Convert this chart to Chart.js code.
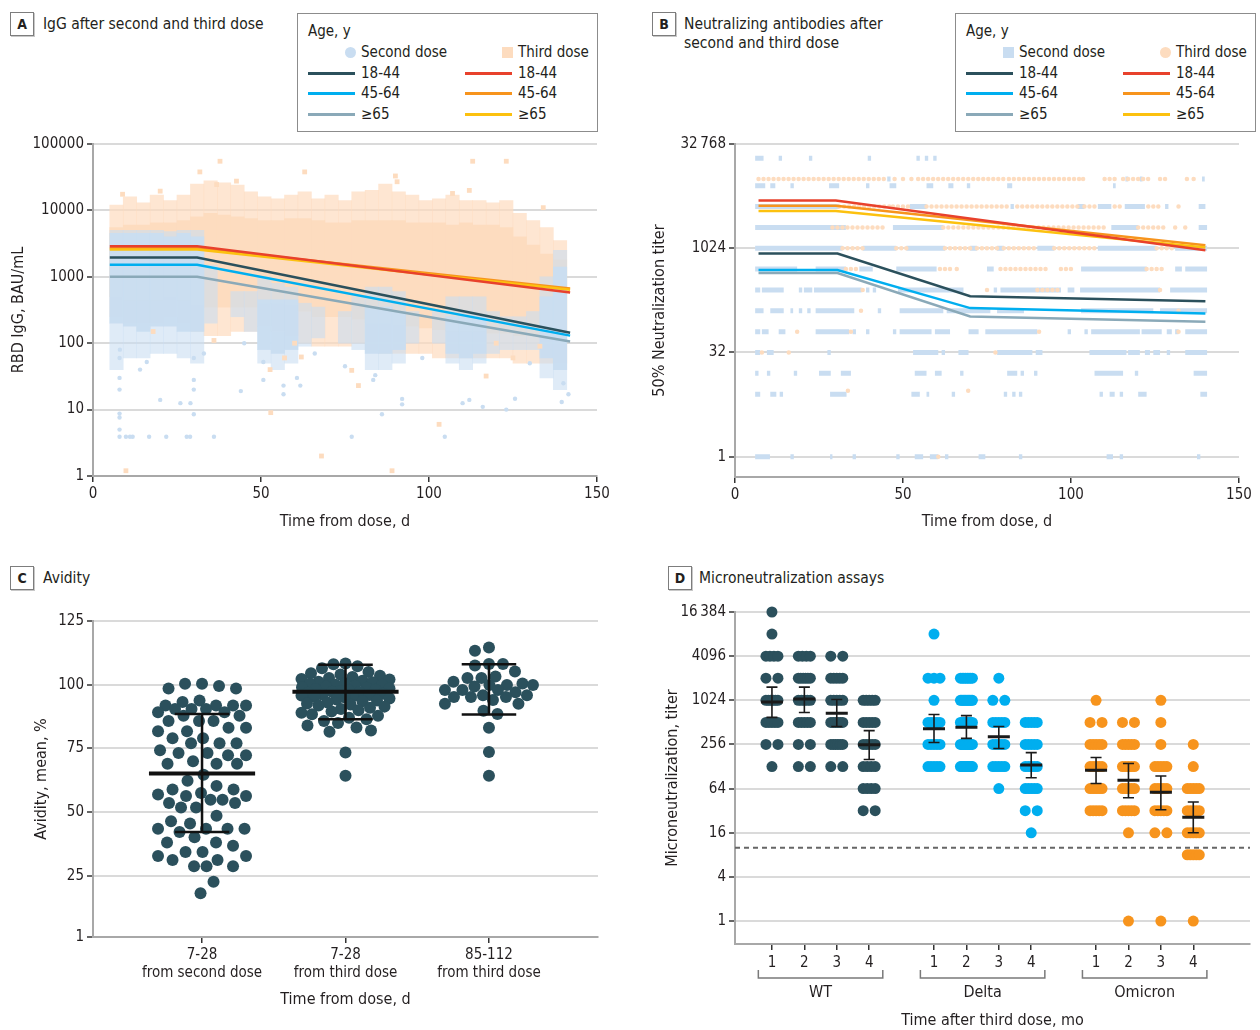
<!DOCTYPE html>
<html>
<head>
<meta charset="utf-8">
<script src="https://cdn.jsdelivr.net/npm/chart.js"></script>
<style>
  body { margin:0; width:1260px; height:1030px; background:#fff; position:relative; overflow:hidden;
         font-family:'DejaVu Sans Condensed','DejaVu Sans',sans-serif; color:#231f20; }
  .box { position:absolute; }
  .tag { position:absolute; width:22px; height:22px; border:1px solid #7d7d7d; box-shadow:1px 1px 0 #c8c8c8;
         font-weight:bold; font-size:14px; line-height:22px; text-align:center; }
  .ttl { position:absolute; font-size:15.5px; line-height:19px; white-space:nowrap; }
  .legend { position:absolute; width:299px; height:117px; border:1px solid #8c8c8c; font-size:15px; }
  .legend div, .legend span { position:absolute; white-space:nowrap; }
  .legend .t { line-height:19px; }
  .legend .sw { height:3px; width:47px; }
</style>
</head>
<body>

<div class="tag" style="left:10px;top:12px">A</div>
<div class="ttl" style="left:43px;top:15px">IgG after second and third dose</div>
<div class="legend" id="legA" style="left:297px;top:13px"></div>

<div class="tag" style="left:652px;top:12px">B</div>
<div class="ttl" style="left:684px;top:15px">Neutralizing antibodies after<br>second and third dose</div>
<div class="legend" id="legB" style="left:955px;top:13px"></div>

<div class="tag" style="left:10px;top:566px">C</div>
<div class="ttl" style="left:43px;top:569px">Avidity</div>

<div class="tag" style="left:668px;top:566px">D</div>
<div class="ttl" style="left:699px;top:569px">Microneutralization assays</div>

<div class="box" style="left:0;top:132px"><canvas id="cA" width="630" height="413"></canvas></div>
<div class="box" style="left:640px;top:132px"><canvas id="cB" width="620" height="413"></canvas></div>
<div class="box" style="left:0;top:600px"><canvas id="cC" width="630" height="430"></canvas></div>
<div class="box" style="left:640px;top:600px"><canvas id="cD" width="620" height="430"></canvas></div>

<script>
// ---------- colours ----------
const TXT = '#231f20';
const C_DARK = '#2b505c', C_BLUE = '#00aeef', C_GREY = '#8aa9b8';
const C_RED = '#e8412c', C_ORANGE = '#f7941d', C_YELLOW = '#fcc10f';
const C_PEACH = '#fddcbf', C_LBLUE = '#c9ddf1';
const FONT = "'DejaVu Sans Condensed', 'DejaVu Sans', sans-serif";

// ---------- panel A data ----------
const ageGroups = ['18-44', '45-64', '\u226565'];
const aTicks = [1, 10, 100, 1000, 10000, 100000];
const aLineDays = [5, 31, 142];
const aSecond1844 = [1950, 1950, 144];
const aSecond4564 = [1515, 1515, 130];
const aSecond65   = [1000, 1000, 106];
const aThird1844  = [2890, 2890, 580];
const aThird4564  = [2700, 2700, 667];
const aThird65    = [2570, 2570, 640];
// 4-day bins, [low, high] of the dense and the sparse part of each cloud
const aBinDays = [7,11,15,19,23,27,31,35,39,43,47,51,55,59,63,67,71,75,79,83,87,91,95,99,103,107,111,115,119,123,127,131,135,139];
const aThirdCore = [[500,5500],[450,6000],[450,6000],[450,6500],[500,6500],[450,7000],[380,8000],[350,9000],[350,8500],[350,8000],[350,7500],[400,7000],[400,7000],[380,7500],[300,7500],[250,7000],[250,6500],[250,6500],[230,7000],[200,7000],[200,7000],[190,7000],[180,6500],[170,6500],[160,6500],[150,6000],[150,6500],[150,6000],[140,6000],[140,5500],[130,4000],[130,3000],[120,2200],[120,1800]];
const aThirdOuter = [[250,12000],[200,16000],[200,13000],[200,17000],[250,14000],[200,17000],[150,25000],[130,28000],[130,26000],[150,24000],[150,19000],[180,16000],[150,15000],[130,17000],[100,19000],[90,15000],[90,17000],[90,14000],[100,19000],[80,20000],[70,25000],[70,19000],[70,17000],[70,14000],[60,15000],[60,17000],[60,14000],[60,14000],[60,13000],[60,14000],[50,9000],[50,7000],[50,5500],[50,3500]];
const aSecondCore = [[200,4500],[180,4500],[150,4500],[180,4500],[180,4000],[150,4500],[150,4000],null,null,null,null,[80,450],[70,450],[80,450],null,null,null,null,null,[70,350],[70,350],[80,300],null,null,null,[70,250],[60,250],[70,250],null,null,null,null,[60,500],[40,1400]];
const aSecondOuter = [[40,5000],[60,5000],[60,5000],[70,5000],[70,4800],[60,5000],[50,5000],[200,1500],null,[250,600],[150,600],[50,1000],[40,800],[50,700],[90,400],[120,350],null,[100,300],[80,500],[40,700],[40,700],[50,600],[100,300],null,[100,300],[50,500],[40,500],[50,500],[70,300],[80,250],[80,250],[80,300],[30,1000],[20,2500]];
const aThirdOutDay   = [37.8,31.8,63,8.8,20,42.7,36.8,9.8,68,52.9,17.9,36,52.7,62,60,113,123,90,90.5,103,89,79,77,117,134,107,112,57,120,125,133];
const aThirdOutValue = [55000,38000,38000,17500,19500,27600,24500,1.2,2,9,150,110,40,62,100,55000,55000,33000,27000,6,1.2,23,39,32,11000,18000,20000,60,100,60,90];
const aSecondOutDay   = [7.9,9.8,11,11.8,16.7,21.8,27.9,28.9,36,7.9,7.9,7.9,20,26,29,30,7.9,7.9,14,16,44,30,30,50.7,56.7,56.7,60.7,61.7,75,50.7,77,104.7,86,92,92,116,123,139.5,110,112,125.6,141.5,83.4,84,7.9,8,30,33,45,66,98,130,140];
const aSecondOutValue = [3.9,3.9,3.9,3.9,3.9,3.9,3.9,3.9,3.9,8.7,7.6,5,14,12.5,12.5,8.5,30,20,40,52,19,28,20,28,17,23,30,23,45,52,3.9,3.9,8.5,12,14.5,11,10,13,12.5,14,14.6,17,28,33,60,80,60,70,100,70,60,50,25];

// ---------- panel B data ----------
const bTicks = [1, 32, 1024, 32768];
const bThirdDays = [7, 30, 140];
const bThird1844 = [5000, 5000, 955];
const bThird4564 = [4200, 4200, 1130];
const bThird65   = [3540, 3540, 1050];
const bSecondDays = [7, 30.5, 70, 140];
const bSecond1844 = [858, 858, 208, 176];
const bSecond4564 = [495, 495, 140, 117];
const bSecond65   = [449, 449, 106, 89];
// titer levels and the day ranges where samples sit on each level
const bLevels = [20480, 10240, 8192, 4096, 2048, 1024, 512, 256, 128, 64, 32, 16, 9, 8, 1];
const bSecondRuns = [
  [[6,8.5],[13,14],[22,23],[39.5,40.5],[54,55],[56.5,57.5],[59,60]],
  [[45.3,46.3],[116.2,117],[120.5,121.3],[139,139.8]],
  [[6,9],[10.5,12],[16.5,17.5],[28,31],[39,40],[46,48],[57,59],[63.5,65],[69,70],[81,82.5],[112.5,113.3]],
  [[6,31],[52,57],[82,83],[102,104],[108,112],[116,122],[128,129],[138,140]],
  [[6,33],[47,62],[112,120],[138,140.5]],
  [[6,32],[38,48],[51,62.5],[70,72],[78,80],[90,95],[108,125.5],[131,140.5]],
  [[6,18.5],[24,33],[37,41],[48,60],[75,77],[103,122.5],[131,133],[134,140.5]],
  [[6,7.5],[8,14.5],[19,20],[20.5,23],[23.5,37.7],[39,40],[41,42],[48.5,68],[77,78],[79,97],[99,101],[102.7,126.5],[129.5,140.5]],
  [[6,8.5],[10.5,14.5],[16.5,17.3],[19,20],[21.5,22.5],[24,35.5],[42.5,43.5],[49,62],[63,76],[78,86],[103,124.5],[126.5,140.5]],
  [[6,7.5],[8,10],[13,15],[24,34],[35,36],[39,40],[47,48],[49,58.5],[59.5,64],[69.5,72.5],[74.5,90],[99,100],[104,105],[106,120.5],[121,127],[128.5,130],[131,132],[134,140.5]],
  [[6,7.5],[9.5,11.5],[27.5,28.5],[53,60.5],[61.5,62.5],[66.5,69.5],[78,88.5],[89.5,91.5],[105.5,116.5],[117,120.5],[122,123.5],[124.5,126.5],[128.5,129.5],[134,140.5]],
  [[6,7],[9.5,10.5],[17.5,18.5],[25,28.5],[31.5,34.5],[53.5,57],[59.5,61.5],[67,68],[81,84],[85,86],[89,90],[107,115.5],[119,120],[136.5,140.5]],
  [],
  [[6,7.5],[10.5,12.3],[13.3,14.3],[28.3,33.2],[52.5,55],[57,57.8],[64.5,65.5],[80,81],[82.5,83.5],[84.5,85.5],[108.5,109.5],[111.5,113],[114.5,115.5],[120,122.5],[138.5,140.5]],
  [[6,10.4],[16.5,17.5],[28.3,29],[35,36],[48,49],[53.5,56],[58,60.5],[62.5,63.5],[72.5,74.5],[84.5,85.5],[110.6,112.5],[114.5,115.5],[137.5,138.5]]
];
const bThirdRuns = [
  [],
  [[7,45],[47.5,48],[50,50.5],[52.5,53],[54.5,80],[81.5,83.5],[84.5,103],[103.6,105],[110,113],[115.5,123],[126.5,128],[134.5,135],[136.5,137]],
  [],
  [[31,46],[47,52],[57,81],[84,102],[104,107],[113,115],[123,126],[132,133]],
  [[29,45],[62,110],[120,128],[131,131.5],[134,134.5]],
  [[32,38],[48,51],[62.5,70],[72,78],[80,90],[95,108],[125.5,131]],
  [[33,37],[61,64],[66,67],[79,93],[97,100],[122.5,128]],
  [[38,38.5],[75,75.5],[90,97],[126.5,127.5]],
  [[37.5,38],[132,132.5]],
  [[18.5,19],[34.5,35],[90.5,91],[132,132.5]],
  [[8,8.5],[16,16.5],[77.5,78]],
  [],
  [[33.6,34],[69.4,69.8]],
  [],
  [[60.5,61]]
];

// ---------- panel C data ----------
const avTicks = [1, 25, 50, 75, 100, 125];
const avLabels = [['7-28', 'from second dose'], ['7-28', 'from third dose'], ['85-112', 'from third dose']];
const avSecond7to28 = [100.4,99.5,100.4,98.5,98.5,93.8,93.2,91.8,91.8,91.8,91.8,90.5,90.5,90.5,89.2,89.2,87.8,87.8,85.8,85.8,85.8,83.1,83.1,81.7,81.7,79,79,77,77,77,74.3,73.2,73.2,72.3,72.3,70,69,69,69,64.7,62.3,60.3,58.9,58.9,57.5,56.9,56.3,56.3,54.9,54.9,53.6,53.6,51.8,51.8,48.6,46.4,45.5,43.5,43.5,43.5,43.5,42.2,40.1,38.1,38.1,36.8,34.4,34.4,32.8,32.8,31.2,31.2,28.8,28.8,28.8,22.7,18.2];
const avThird7to28 = [108.3,108,107.2,106.5,105,104.5,104,103.5,103,102.6,102.2,102,101.6,101.2,101,100.6,100.4,100,100,99.6,99.3,99,98.8,98.5,98.2,98,97.8,97.5,97.2,97,96.8,96.5,96.2,96,95.8,95.5,95.2,95,94.6,94.2,93.8,93.5,93,92.6,92.2,91.8,91.4,91,90.5,90,89.5,89,88.4,87.8,87,86.4,85.8,85,84,83.2,82,81.5,73.4,64.3];
const avThird85to112 = [114.6,113.3,108.1,108.1,107.5,105.2,103.2,102.6,102.6,101.2,100.5,99.9,99.9,99.9,99.3,97.9,97.9,97.9,97,95.9,95.9,95.2,95.2,95.2,94,92.5,92.5,89.8,88.5,83.1,73.6,64.3];
const avMean = [65.2, 97.2, null];
const avLow  = [42.2, 86.4, 88.3];
const avHigh = [88.5, 107.8, 108.0];

// ---------- panel D data ----------
const dTicks = [1, 4, 16, 64, 256, 1024, 4096, 16384];
const dLevels = [16384, 8192, 4096, 2048, 1024, 512, 256, 128, 64, 32, 16, 8, 1];
const dPositions = [1, 2, 3, 4, 6, 7, 8, 9, 11, 12, 13, 14];
const dTickLabels = ['1','2','3','4','1','2','3','4','1','2','3','4'];
const dGroupNames = ['WT', 'Delta', 'Omicron'];
const wt1 = [1,1,4,2,6,5,2,1,0,0,0,0,0];
const wt2 = [0,0,4,6,5,5,2,2,0,0,0,0,0];
const wt3 = [0,0,2,5,5,6,6,2,0,0,0,0,0];
const wt4 = [0,0,0,0,5,5,5,4,4,2,0,0,0];
const delta1 = [0,1,0,3,1,5,5,5,0,0,0,0,0];
const delta2 = [0,0,0,8,10,8,10,10,0,0,0,0,0];
const delta3 = [0,0,0,1,2,5,5,5,1,0,0,0,0];
const delta4 = [0,0,0,0,0,5,5,5,5,2,1,0,0];
const omicron1 = [0,0,0,0,1,2,5,5,5,5,0,0,0];
const omicron2 = [0,0,0,0,0,2,5,5,5,5,1,0,1];
const omicron3 = [0,0,0,0,1,1,1,5,5,5,2,0,1];
const omicron4 = [0,0,0,0,0,0,1,1,5,5,5,5,1];
const dMean = [970, 1070, 680, 253, 420, 440, 325, 134, 114, 83, 57, 26];
const dLow  = [600, 700, 450, 160, 272, 310, 226, 90, 75, 48, 33, 16];
const dHigh = [1550, 1550, 1050, 395, 655, 634, 450, 198, 170, 141, 95, 42];
const dCutoff = 10;

// ---------- legends ----------
function legend(id, firstShapes) {
  const el = document.getElementById(id);
  const rows = [39, 60, 80, 101];
  let h = '<div class="t" style="left:10px;top:8px">Age, y</div>';
  const cols = [{sw:10, tx:63, mk:47, name:'Second dose', col:[C_DARK, C_BLUE, C_GREY], fill:C_LBLUE},
                {sw:167, tx:220, mk:204, name:'Third dose', col:[C_RED, C_ORANGE, C_YELLOW], fill:C_PEACH}];
  cols.forEach((c, i) => {
    const r = firstShapes[i] === 'circle' ? '50%' : '0';
    h += `<span style="left:${c.mk}px;top:${rows[0]-6}px;width:11px;height:11px;border-radius:${r};background:${c.fill}"></span>`;
    h += `<div class="t" style="left:${c.tx}px;top:${rows[0]-10}px">${c.name}</div>`;
    ageGroups.forEach((g, k) => {
      h += `<span class="sw" style="left:${c.sw}px;top:${rows[k+1]-2}px;background:${c.col[k]}"></span>`;
      h += `<div class="t" style="left:${c.tx}px;top:${rows[k+1]-10}px">${g}</div>`;
    });
  });
  el.innerHTML = h;
}
legend('legA', ['circle', 'square']);
legend('legB', ['square', 'circle']);

// ---------- helpers ----------
Chart.defaults.font.family = FONT;
Chart.defaults.font.size = 15;
Chart.defaults.color = TXT;
Chart.defaults.animation = false;
Chart.defaults.events = [];
Chart.defaults.plugins.legend.display = false;
Chart.defaults.plugins.tooltip.enabled = false;

function mkLine(days, vals) { return days.map((d, i) => ({x: d, y: vals[i]})); }
function mkPts(xs, ys) { return xs.map((x, i) => ({x: x, y: ys[i]})); }
function mkRange(days, pairs) {
  const out = [];
  days.forEach((d, i) => { if (pairs[i]) out.push({x: d, y: pairs[i]}); });
  return out;
}
function mkRuns(levels, runs) {
  const out = [];
  levels.forEach((L, i) => runs[i].forEach(r => { out.push({x: r[0], y: L}, {x: r[1], y: L}, {x: r[1], y: null}); }));
  return out;
}
function errBars(pos, lo, hi, cap) {
  const p = [];
  pos.forEach((x, i) => {
    p.push({x, y: lo[i]}, {x, y: hi[i]}, {x, y: null},
           {x: x - cap, y: hi[i]}, {x: x + cap, y: hi[i]}, {x, y: null},
           {x: x - cap, y: lo[i]}, {x: x + cap, y: lo[i]}, {x, y: null});
  });
  return p;
}
function meanBars(pos, mean, half) {
  const p = [];
  pos.forEach((x, i) => { if (mean[i] != null) p.push({x: x - half, y: mean[i]}, {x: x + half, y: mean[i]}, {x, y: null}); });
  return p;
}
function lineDs(data, color, width, order, extra) {
  return Object.assign({type: 'line', data, borderColor: color, borderWidth: width, pointRadius: 0,
                        tension: 0, spanGaps: false, fill: false, order}, extra || {});
}

function xAxis(o) {
  return {
    type: 'linear', min: o.min, max: o.max, offset: false,
    afterBuildTicks: s => { s.ticks = o.ticks.map(v => ({value: v})); },
    afterFit: s => { s.height = o.height; },
    ticks: {callback: o.fmt || (v => String(v)), padding: o.tickPad, color: TXT, font: {size: 15}, autoSkip: false, maxRotation: 0},
    grid: {drawOnChartArea: false, offset: false, color: '#333', tickColor: '#333', tickLength: 6, tickWidth: 1.5, lineWidth: 1.5},
    border: {color: '#a8a8a8', width: 2},
    title: {display: true, text: o.title, color: TXT, font: {size: 16}, padding: {top: 0, bottom: o.tpad}}
  };
}
function yAxis(o) {
  return {
    type: o.type, min: o.min, max: o.max,
    afterBuildTicks: s => { s.ticks = o.ticks.map(v => ({value: v})); },
    afterFit: s => { s.width = o.width; },
    ticks: {callback: o.fmt || (v => String(v)), padding: 3, color: TXT, font: {size: 15}, autoSkip: false},
    grid: {color: '#dadada', lineWidth: 2, tickColor: '#333', tickLength: 6, tickWidth: 1.5},
    border: {color: '#a8a8a8', width: 2},
    title: {display: true, text: o.title, color: TXT, font: {size: 16}, padding: {top: o.tpad, bottom: 0}}
  };
}
const bigFmt = v => (v >= 16384 ? String(v).slice(0, -3) + '\u2009' + String(v).slice(-3) : String(v));

// ---------- panel A ----------
const barOpts = {type: 'bar', grouped: false, barPercentage: 1, categoryPercentage: 1, borderWidth: 0};
new Chart(document.getElementById('cA'), {
  type: 'bar',
  data: {datasets: [
    Object.assign({}, barOpts, {data: mkRange(aBinDays, aThirdOuter), backgroundColor: 'rgba(253,220,191,0.7)', order: 9}),
    Object.assign({}, barOpts, {data: mkRange(aBinDays, aThirdCore), backgroundColor: C_PEACH, order: 8}),
    Object.assign({}, barOpts, {data: mkRange(aBinDays, aSecondOuter), backgroundColor: 'rgba(201,221,241,0.6)', order: 7}),
    Object.assign({}, barOpts, {data: mkRange(aBinDays, aSecondCore), backgroundColor: 'rgba(201,221,241,0.92)', order: 6}),
    {type: 'scatter', data: mkPts(aThirdOutDay, aThirdOutValue), pointStyle: 'rect', pointRadius: 3.4, backgroundColor: C_PEACH, borderWidth: 0, order: 5},
    {type: 'scatter', data: mkPts(aSecondOutDay, aSecondOutValue), pointRadius: 2.2, backgroundColor: C_LBLUE, borderWidth: 0, order: 4},
    lineDs(mkLine(aLineDays, aSecond65), C_GREY, 2.5, 3),
    lineDs(mkLine(aLineDays, aSecond4564), C_BLUE, 2.5, 3),
    lineDs(mkLine(aLineDays, aSecond1844), C_DARK, 2.5, 3),
    lineDs(mkLine(aLineDays, aThird65), C_YELLOW, 2.5, 2),
    lineDs(mkLine(aLineDays, aThird4564), C_ORANGE, 2.5, 2),
    lineDs(mkLine(aLineDays, aThird1844), C_RED, 2.5, 1)
  ]},
  options: {
    responsive: false,
    layout: {padding: {top: 8, right: 33, left: 0, bottom: 0}},
    scales: {
      x: xAxis({min: 0, max: 150, ticks: [0, 50, 100, 150], height: 69, tickPad: 3, title: 'Time from dose, d', tpad: 14}),
      y: yAxis({type: 'logarithmic', min: 1, max: 100000, ticks: aTicks, width: 93, title: 'RBD IgG, BAU/mL', tpad: 9})
    }
  }
});

// ---------- panel B ----------
new Chart(document.getElementById('cB'), {
  type: 'line',
  data: {datasets: [
    lineDs(mkRuns(bLevels, bSecondRuns), C_LBLUE, 5, 9),
    lineDs(mkRuns(bLevels, bThirdRuns), C_PEACH, 4.5, 8, {borderDash: [0.01, 5], borderCapStyle: 'round'}),
    lineDs(mkLine(bSecondDays, bSecond65), C_GREY, 2.5, 3),
    lineDs(mkLine(bSecondDays, bSecond4564), C_BLUE, 2.5, 3),
    lineDs(mkLine(bSecondDays, bSecond1844), C_DARK, 2.5, 3),
    lineDs(mkLine(bThirdDays, bThird65), C_YELLOW, 2.5, 2),
    lineDs(mkLine(bThirdDays, bThird4564), C_ORANGE, 2.5, 2),
    lineDs(mkLine(bThirdDays, bThird1844), C_RED, 2.5, 1)
  ]},
  options: {
    responsive: false,
    layout: {padding: {top: 8, right: 21, left: 0, bottom: 0}},
    scales: {
      x: xAxis({min: 0, max: 150, ticks: [0, 50, 100, 150], height: 68, tickPad: 3, title: 'Time from dose, d', tpad: 14}),
      y: yAxis({type: 'logarithmic', min: 0.51, max: 32768, ticks: bTicks, width: 95, fmt: bigFmt, title: '50% Neutralization titer', tpad: 10})
    }
  }
});

// ---------- panel C ----------
const C_PY = 316 / 124, C_PX = 505 / 3.52;
const avSwarmDiam = [17, 12, 14];
const avSwarmHalfW = 44;
// beeswarm inside a fixed band: first free slot, else the least crowded one
function swarm(values, center, diam) {
  const placed = [], out = [];
  const order = values.map((v, i) => i).sort((a, b) => values[b] - values[a]);
  order.forEach(i => {
    const py = values[i] * C_PY;
    let best = 0, bestGap = -1;
    for (let k = 0; k <= avSwarmHalfW * 4; k++) {
      const cand = (k % 2 === 0 ? 1 : -1) * Math.ceil(k / 2) * 0.5;
      let gap = Infinity;
      for (const p of placed) {
        const dy = p.y - py;
        if (Math.abs(dy) < diam) gap = Math.min(gap, Math.hypot(p.x - cand, dy));
      }
      if (gap >= diam) { best = cand; break; }
      if (gap > bestGap) { bestGap = gap; best = cand; }
    }
    placed.push({x: best, y: py});
    out.push({x: center + best / C_PX, y: values[i]});
  });
  return out;
}
const avGroups = [avSecond7to28, avThird7to28, avThird85to112];
const avDots = [];
avGroups.forEach((g, i) => swarm(g, i + 1, avSwarmDiam[i]).forEach(p => avDots.push(p)));

new Chart(document.getElementById('cC'), {
  type: 'scatter',
  data: {datasets: [
    lineDs(meanBars([1, 2, 3], avMean, 0.37), '#111', 4, 1),
    lineDs(errBars([1, 2, 3], avLow, avHigh, 0.19), '#111', 2.5, 2),
    {type: 'scatter', data: avDots, pointRadius: 6, backgroundColor: C_DARK, borderWidth: 0, order: 3}
  ]},
  options: {
    responsive: false,
    layout: {padding: {top: 21, right: 32, left: 0, bottom: 0}},
    scales: {
      x: xAxis({min: 0.24, max: 3.76, ticks: [1, 2, 3], height: 93, tickPad: 3, fmt: v => avLabels[v - 1], title: 'Time from dose, d', tpad: 21}),
      y: yAxis({type: 'linear', min: 1, max: 125, ticks: avTicks, width: 93, title: 'Avidity, mean, %', tpad: 32})
    }
  }
});

// ---------- panel D ----------
const D_PX = 515 / 15.89;
const dCounts = [wt1, wt2, wt3, wt4, delta1, delta2, delta3, delta4, omicron1, omicron2, omicron3, omicron4];
const dColors = [C_DARK, C_BLUE, C_ORANGE];
function rowDots(pos, counts) {
  const pts = [];
  counts.forEach((n, k) => {
    for (let j = 0; j < n; j++) {
      const off = n === 1 ? 0 : -6 + 12 * j / (n - 1);
      pts.push({x: pos + off / D_PX, y: dLevels[k]});
    }
  });
  return pts;
}
const dDotSets = dGroupNames.map((name, g) => {
  let pts = [];
  for (let m = 0; m < 4; m++) pts = pts.concat(rowDots(dPositions[g * 4 + m], dCounts[g * 4 + m]));
  return {type: 'scatter', data: pts, pointRadius: 5.5, backgroundColor: dColors[g], borderWidth: 0, clip: false, order: 5};
});
const bracketPlugin = {
  id: 'brackets',
  afterDraw(chart) {
    const {ctx, chartArea} = chart;
    const x = chart.scales.x;
    ctx.save();
    ctx.strokeStyle = '#7a7a7a'; ctx.lineWidth = 1.5;
    ctx.fillStyle = TXT; ctx.font = '16px ' + FONT; ctx.textAlign = 'center'; ctx.textBaseline = 'middle';
    dGroupNames.forEach((name, g) => {
      const x1 = x.getPixelForValue(dPositions[g * 4] - 0.42);
      const x2 = x.getPixelForValue(dPositions[g * 4 + 3] + 0.42);
      const yTop = chartArea.bottom + 26, yLine = chartArea.bottom + 34;
      ctx.beginPath(); ctx.moveTo(x1, yTop); ctx.lineTo(x1, yLine); ctx.lineTo(x2, yLine); ctx.lineTo(x2, yTop); ctx.stroke();
      ctx.fillText(name, (x1 + x2) / 2, chartArea.bottom + 49);
    });
    ctx.restore();
  }
};
new Chart(document.getElementById('cD'), {
  type: 'scatter',
  data: {datasets: [
    lineDs(meanBars(dPositions, dMean, 0.34), '#1a1a1a', 3, 1),
    lineDs(errBars(dPositions, dLow, dHigh, 0.17), '#1a1a1a', 1.6, 2),
    lineDs([{x: -0.14, y: dCutoff}, {x: 15.75, y: dCutoff}], '#666', 2, 3, {borderDash: [5, 4]})
  ].concat(dDotSets)},
  options: {
    responsive: false,
    layout: {padding: {top: 11, right: 10, left: 0, bottom: 0}},
    scales: {
      x: xAxis({min: -0.14, max: 15.75, ticks: dPositions, height: 86, tickPad: 4,
                fmt: (v) => dTickLabels[dPositions.indexOf(v)], title: 'Time after third dose, mo', tpad: 0}),
      y: yAxis({type: 'logarithmic', min: 0.487, max: 16384, ticks: dTicks, width: 95, fmt: bigFmt, title: 'Microneutralization, titer', tpad: 23})
    }
  },
  plugins: [bracketPlugin]
});
</script>
</body>
</html>
